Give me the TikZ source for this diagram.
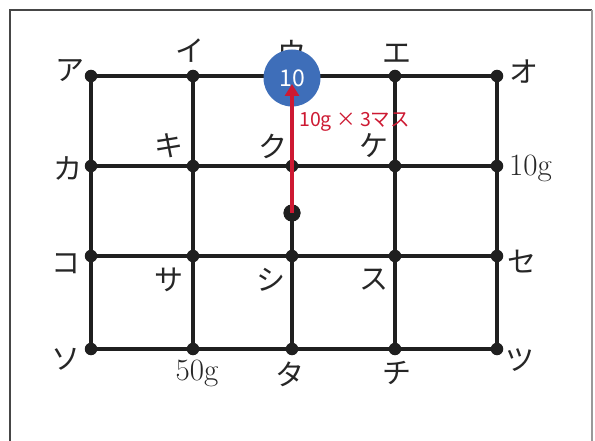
\documentclass[tikz,border=0pt]{standalone}
\usepackage{fontspec}
\newfontfamily\jp{Noto Sans CJK JP}
\usetikzlibrary{arrows.meta}
\definecolor{ballblue}{RGB}{62,110,185}
\definecolor{arrowred}{RGB}{205,25,50}
\definecolor{framegray}{RGB}{70,70,70}
\begin{document}
\begin{tikzpicture}[x=1pt,y=-1pt,
  gridline/.style={line width=3.6pt,black!88},
  gdot/.style={circle,fill=black!88,inner sep=0pt,minimum size=12.5pt},
  kana/.style={font=\jp\fontsize{29}{29}\selectfont,inner sep=0pt,text=black!85},
  num/.style={font=\fontsize{31}{31}\selectfont,inner sep=0pt,text=black!85},
  redlabel/.style={font=\jp\fontsize{19.5}{19.5}\selectfont,text=arrowred,inner sep=0pt},
  ball/.style={circle,fill=ballblue,minimum size=57pt,inner sep=0pt,text=white,font=\jp\fontsize{23}{23}\selectfont}]
\useasboundingbox (0,0) rectangle (595,441);
% frame
\coordinate (fbl) at (10,441);
\coordinate (ftl) at (10,10);
\coordinate (ftr) at (592,10);
\coordinate (fbr) at (592,441);
\draw[line width=2pt,framegray] (fbl) -- (ftl) -- (ftr);
\draw[line width=1.2pt,black!40] (ftr) -- (fbr);
% grid dots
\foreach \c/\x in {1/91,2/193,3/292,4/395,5/497}{
  \foreach \r/\y in {1/76,2/166,3/256,4/349}{
    \node[gdot] (d\c\r) at (\x,\y) {};
  }
}
\node[gdot,minimum size=17pt] (mid) at (292,213) {};
% rows
\foreach \r in {1,2,3,4}{
  \draw[gridline] (d1\r.center) -- (d5\r.center);
}
% columns
\foreach \c in {1,2,4,5}{
  \draw[gridline] (d\c1.center) -- (d\c4.center);
}
\draw[gridline] (d32.center) -- (d34.center);
% labels
\node[kana] (la) at (70,71) {ア};
\node[kana] (li) at (190,51) {イ};
\node[kana] (lu) at (292,52) {ウ};
\node[kana] (le) at (397,54) {エ};
\node[kana] (lo) at (524,72) {オ};
\node[kana] (lka) at (68,168) {カ};
\node[kana] (lki) at (169,146) {キ};
\node[kana] (lku) at (273,146) {ク};
\node[kana] (lke) at (374,146) {ケ};
\node[num,anchor=west] (l10g) at (509,168) {10g};
\node[kana] (lko) at (66,264) {コ};
\node[kana] (lsa) at (169,280) {サ};
\node[kana] (lshi) at (271,280) {シ};
\node[kana] (lsu) at (374,280) {ス};
\node[kana] (lse) at (522,262) {セ};
\node[kana] (lso) at (66,359) {ソ};
\node[num] (l50g) at (197,373) {50g};
\node[kana] (lta) at (290,374) {タ};
\node[kana] (lchi) at (397,373) {チ};
\node[kana] (ltsu) at (520,360) {ツ};
% ball
\node[ball] (ball) at (292,78) {10};
\node[gdot,minimum size=17pt] (mid2) at (mid) {};
\coordinate (tip) at (292,84);
\draw[line width=3.6pt,arrowred,-{Triangle[length=12pt,width=14pt]}] (mid.center) -- (tip);
\node[redlabel,anchor=west] (lab) at (299,122) {10g × 3マス};
\end{tikzpicture}
\end{document}
